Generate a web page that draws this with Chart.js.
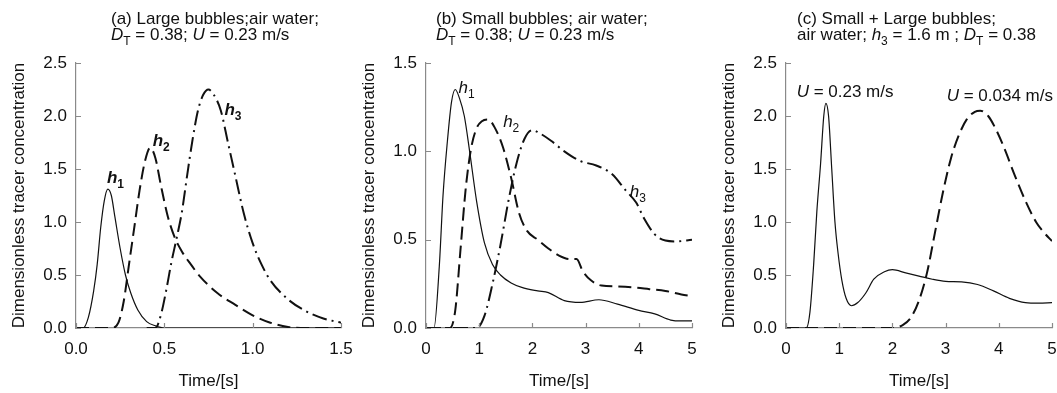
<!DOCTYPE html>
<html>
<head>
<meta charset="utf-8">
<script src="https://cdn.jsdelivr.net/npm/chart.js@4.4.1/dist/chart.umd.min.js"></script>
<style>
  html, body { margin: 0; padding: 0; background: #fff; }
  #wrap { position: relative; width: 1057px; height: 393px; overflow: hidden; }
  .panel { position: absolute; top: 0; height: 393px; }
</style>
</head>
<body>
<div id="wrap">
  <div class="panel" style="left:0px;width:361px"><canvas id="chartA"></canvas></div>
  <div class="panel" style="left:350px;width:362px"><canvas id="chartB"></canvas></div>
  <div class="panel" style="left:710px;width:347px"><canvas id="chartC"></canvas></div>
</div>
<script>
"use strict";

// ---- panel (a): large bubbles, time 0..1.5 s
const aTimeH1 = [0, 0.04, 0.07, 0.1, 0.12, 0.14, 0.16, 0.18, 0.2, 0.22, 0.25, 0.28, 0.31, 0.35, 0.4, 0.45, 0.5, 1.5];
const aConcH1 = [0, 0, 0.1, 0.35, 0.6, 0.95, 1.2, 1.31, 1.25, 1.05, 0.75, 0.5, 0.33, 0.17, 0.06, 0.02, 0, 0];
const aTimeH2 = [0, 0.2, 0.24, 0.27, 0.3, 0.33, 0.36, 0.39, 0.42, 0.45, 0.48, 0.52, 0.56, 0.6, 0.65, 0.7, 0.8, 0.9, 1.0, 1.1, 1.2, 1.3, 1.5];
const aConcH2 = [0, 0, 0.05, 0.25, 0.6, 0.95, 1.3, 1.57, 1.7, 1.6, 1.35, 1.05, 0.85, 0.72, 0.6, 0.49, 0.33, 0.22, 0.12, 0.05, 0.01, 0, 0];
const aTimeH3 = [0.4, 0.45, 0.48, 0.51, 0.54, 0.57, 0.6, 0.63, 0.66, 0.69, 0.72, 0.75, 0.78, 0.82, 0.86, 0.9, 0.95, 1.0, 1.05, 1.1, 1.2, 1.3, 1.4, 1.5];
const aConcH3 = [0, 0, 0.12, 0.35, 0.62, 0.85, 1.1, 1.45, 1.78, 2.05, 2.2, 2.25, 2.2, 2.05, 1.75, 1.45, 1.08, 0.8, 0.6, 0.45, 0.27, 0.16, 0.09, 0.05];

// ---- panel (b): small bubbles, time 0..5 s
const bTimeH1 = [0, 0.15, 0.25, 0.32, 0.4, 0.48, 0.55, 0.63, 0.72, 0.82, 0.95, 1.1, 1.25, 1.4, 1.6, 1.8, 2.1, 2.3, 2.6, 2.9, 3.25, 3.6, 4.0, 4.3, 4.6, 4.8, 5.0];
const bConcH1 = [0, 0, 0.35, 0.75, 1.05, 1.28, 1.35, 1.3, 1.2, 1.0, 0.72, 0.48, 0.36, 0.3, 0.255, 0.23, 0.21, 0.2, 0.155, 0.145, 0.16, 0.135, 0.1, 0.08, 0.045, 0.04, 0.04];
const bTimeH2 = [0, 0.45, 0.55, 0.65, 0.75, 0.85, 0.95, 1.05, 1.17, 1.3, 1.45, 1.6, 1.75, 1.9, 2.1, 2.3, 2.5, 2.7, 2.83, 2.95, 3.1, 3.3, 3.6, 3.9, 4.2, 4.5, 4.8, 5.0];
const bConcH2 = [0, 0, 0.1, 0.45, 0.8, 1.02, 1.13, 1.17, 1.18, 1.13, 1.02, 0.85, 0.65, 0.55, 0.5, 0.45, 0.41, 0.39, 0.39, 0.32, 0.27, 0.24, 0.235, 0.23, 0.22, 0.21, 0.19, 0.18];
const bTimeH3 = [0, 0.95, 1.1, 1.25, 1.4, 1.55, 1.7, 1.85, 2.0, 2.15, 2.35, 2.6, 2.9, 3.2, 3.5, 3.75, 3.95, 4.1, 4.3, 4.5, 4.7, 5.0];
const bConcH3 = [0, 0, 0.07, 0.25, 0.47, 0.72, 0.93, 1.07, 1.12, 1.1, 1.06, 1.0, 0.945, 0.92, 0.87, 0.78, 0.71, 0.62, 0.53, 0.495, 0.49, 0.5];

// ---- panel (c): small + large bubbles at h3, two superficial velocities
const cTimeFast = [0, 0.38, 0.45, 0.52, 0.58, 0.65, 0.71, 0.75, 0.8, 0.86, 0.92, 0.98, 1.05, 1.13, 1.23, 1.35, 1.5, 1.65, 1.85, 2.0, 2.25, 2.5, 2.75, 3.0, 3.3, 3.6, 3.9, 4.2, 4.5, 4.75, 5.0];
const cConcFast = [0, 0, 0.15, 0.6, 1.1, 1.55, 2.0, 2.12, 2.0, 1.5, 1.0, 0.7, 0.45, 0.28, 0.21, 0.24, 0.33, 0.46, 0.53, 0.55, 0.52, 0.49, 0.46, 0.44, 0.435, 0.41, 0.35, 0.28, 0.24, 0.235, 0.24];
const cTimeSlow = [0, 2.0, 2.2, 2.35, 2.5, 2.65, 2.8, 2.95, 3.1, 3.25, 3.4, 3.55, 3.65, 3.8, 3.95, 4.1, 4.3, 4.5, 4.7, 4.85, 5.0];
const cConcSlow = [0, 0, 0.03, 0.1, 0.26, 0.52, 0.9, 1.28, 1.6, 1.82, 1.97, 2.04, 2.05, 2.0, 1.87, 1.7, 1.44, 1.2, 1.0, 0.9, 0.82];

// axis ranges / tick steps
const aXMax = 1.5, aXStep = 0.5, aYMax = 2.5;
const bXMax = 5, bXStep = 1, bYMax = 1.5;
const cXMax = 5, cXStep = 1, cYMax = 2.5;

const FONT = '"Liberation Sans", Arial, Helvetica, sans-serif';
const INK = "#111";
const AXIS = "#8a8a8a";
const SOLID = [];
const DASHED = [13, 6];
const DASHDOT = [15, 5, 2, 5];
const FS = 17;

function pts(xs, ys) {
  return xs.map((x, i) => ({ x, y: ys[i] }));
}

function line(xs, ys, dash, width) {
  return {
    data: pts(xs, ys),
    borderColor: INK,
    borderWidth: width,
    borderDash: dash,
    pointRadius: 0,
    fill: false,
    cubicInterpolationMode: "monotone",
  };
}

// text runs: [text, style] where style may contain i (italic), b (bold), s (subscript)
function drawRich(ctx, x, y, runs, size) {
  let cx = x;
  ctx.textAlign = "left";
  ctx.textBaseline = "alphabetic";
  ctx.fillStyle = INK;
  for (const [t, st = ""] of runs) {
    const sub = st.includes("s");
    const fs = sub ? Math.round(size * 0.7) : size;
    ctx.font = `${st.includes("i") ? "italic " : ""}${st.includes("b") ? "bold " : ""}${fs}px ${FONT}`;
    ctx.fillText(t, cx, y + (sub ? size * 0.3 : 0));
    cx += ctx.measureText(t).width;
  }
}

const decorPlugin = {
  id: "decor",
  afterDraw(chart, args, opts) {
    const { ctx } = chart;
    const xs = chart.scales.x, ys = chart.scales.y;
    ctx.save();
    // inward tick marks
    ctx.strokeStyle = AXIS;
    ctx.lineWidth = 1.2;
    ctx.beginPath();
    xs.ticks.forEach((t) => {
      const px = Math.round(xs.getPixelForValue(t.value)) + 0.5;
      ctx.moveTo(px, ys.bottom);
      ctx.lineTo(px, ys.bottom - 5);
    });
    ys.ticks.forEach((t) => {
      const py = Math.round(ys.getPixelForValue(t.value)) + 0.5;
      ctx.moveTo(xs.left, py);
      ctx.lineTo(xs.left + 5, py);
    });
    ctx.stroke();
    // panel title (two lines)
    opts.title.forEach((runs, i) => drawRich(ctx, opts.titleX, 24 + i * 16, runs, FS));
    // curve labels anchored in data units
    opts.labels.forEach((l) => {
      drawRich(ctx, xs.getPixelForValue(l.at[0]), ys.getPixelForValue(l.at[1]), l.runs, FS);
    });
    ctx.restore();
  },
};

function makeChart(id, datasets, xMax, xStep, yMax, xDigits, padRight, decor) {
  return new Chart(document.getElementById(id), {
    type: "line",
    data: { datasets },
    plugins: [decorPlugin],
    options: {
      responsive: true,
      maintainAspectRatio: false,
      animation: false,
      layout: { padding: { top: 63, right: padRight, left: 0, bottom: 0 } },
      plugins: { legend: { display: false }, tooltip: { enabled: false }, decor },
      scales: {
        x: {
          type: "linear",
          min: 0,
          max: xMax,
          grid: { display: false, drawTicks: false },
          border: { display: true, color: AXIS, width: 1.2 },
          ticks: {
            stepSize: xStep,
            padding: 11,
            color: INK,
            font: { family: FONT, size: FS },
            callback: (v) => v.toFixed(xDigits),
          },
          title: {
            display: true,
            text: "Time/[s]",
            color: INK,
            font: { family: FONT, size: FS },
            padding: { top: 0, bottom: 1 },
          },
          afterFit(s) {
            s.height = 65;
            s.paddingLeft = 0;
            s.paddingRight = 0;
          },
        },
        y: {
          min: 0,
          max: yMax,
          grid: { display: false, drawTicks: false },
          border: { display: true, color: AXIS, width: 1.2 },
          ticks: {
            stepSize: 0.5,
            padding: 9,
            color: INK,
            font: { family: FONT, size: FS },
            callback: (v) => v.toFixed(1),
          },
          title: {
            display: true,
            text: "Dimensionless tracer concentration",
            color: INK,
            font: { family: FONT, size: FS },
            padding: { top: 9, bottom: 0 },
          },
          afterFit(s) {
            s.width = 76;
          },
        },
      },
    },
  });
}

makeChart("chartA", [
  line(aTimeH1, aConcH1, SOLID, 1.2),
  line(aTimeH2, aConcH2, DASHED, 2),
  line(aTimeH3, aConcH3, DASHDOT, 2),
], aXMax, aXStep, aYMax, 1, 20, {
  titleX: 111,
  title: [
    [["(a) Large bubbles;air water;"]],
    [["D", "i"], ["T", "s"], [" = 0.38; "], ["U", "i"], [" = 0.23 m/s"]],
  ],
  labels: [
    { at: [0.175, 1.37], runs: [["h", "ib"], ["1", "bs"]] },
    { at: [0.434, 1.72], runs: [["h", "ib"], ["2", "bs"]] },
    { at: [0.84, 2.01], runs: [["h", "ib"], ["3", "bs"]] },
  ],
});

makeChart("chartB", [
  line(bTimeH1, bConcH1, SOLID, 1.2),
  line(bTimeH2, bConcH2, DASHED, 2),
  line(bTimeH3, bConcH3, DASHDOT, 2),
], bXMax, bXStep, bYMax, 0, 20, {
  titleX: 86,
  title: [
    [["(b) Small bubbles; air water;"]],
    [["D", "i"], ["T", "s"], [" = 0.38; "], ["U", "i"], [" = 0.23 m/s"]],
  ],
  labels: [
    { at: [0.61, 1.33], runs: [["h", "i"], ["1", "s"]] },
    { at: [1.45, 1.14], runs: [["h", "i"], ["2", "s"]] },
    { at: [3.83, 0.74], runs: [["h", "i"], ["3", "s"]] },
  ],
});

makeChart("chartC", [
  line(cTimeFast, cConcFast, SOLID, 1.2),
  line(cTimeSlow, cConcSlow, DASHED, 2),
], cXMax, cXStep, cYMax, 0, 5, {
  titleX: 87,
  title: [
    [["(c) Small + Large bubbles;"]],
    [["air water; "], ["h", "i"], ["3", "s"], [" = 1.6 m ; "], ["D", "i"], ["T", "s"], [" = 0.38"]],
  ],
  labels: [
    { at: [0.2, 2.18], runs: [["U", "i"], [" = 0.23 m/s"]] },
    { at: [3.02, 2.14], runs: [["U", "i"], [" = 0.034 m/s"]] },
  ],
});
</script>
</body>
</html>
